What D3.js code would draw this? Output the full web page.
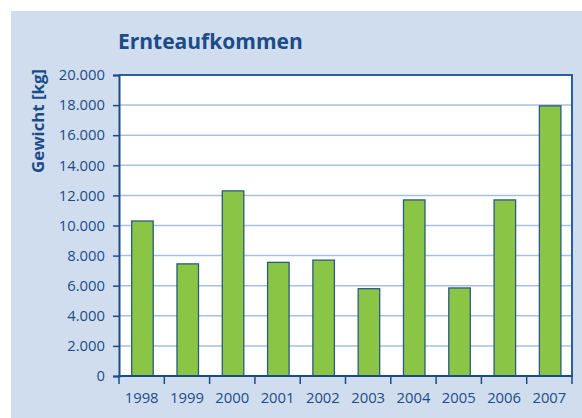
<!DOCTYPE html>
<html>
<head>
<meta charset="utf-8">
<script src="https://cdn.jsdelivr.net/npm/d3@7"></script>
<style>
  body { margin: 0; background: #fff; }
  svg { display: block; }
</style>
</head>
<body>
<svg id="chart"></svg>
<script>
// data
const years = ['1998', '1999', '2000', '2001', '2002', '2003', '2004', '2005', '2006', '2007']
const weights = [10300, 7450, 12300, 7550, 7700, 5800, 11700, 5850, 11700, 17950]
const yTicks = [0, 2000, 4000, 6000, 8000, 10000, 12000, 14000, 16000, 18000, 20000]

const W = 582, H = 418
const margin = { top: 75, right: 10, bottom: 42, left: 119 }
const width = 572 - margin.left, height = 376 - margin.top

const dark = '#1b4c88'
const fmt = v => d3.format(',')(v).replace(/,/g, '.')

const svg = d3.select('#chart').attr('width', W).attr('height', H)

svg.append('rect').attr('x', 11).attr('y', 11).attr('width', W - 11).attr('height', H - 11)
  .attr('fill', '#d0ddee')

svg.append('text').attr('x', 118).attr('y', 49)
  .attr('font-family', 'Open Sans').attr('font-weight', 'bold').attr('font-size', 21)
  .attr('fill', dark).text('Ernteaufkommen')

svg.append('text').attr('transform', 'translate(44,121) rotate(-90)')
  .attr('text-anchor', 'middle')
  .attr('font-family', 'Open Sans').attr('font-weight', 'bold').attr('font-size', 16.8)
  .attr('fill', dark).text('Gewicht [kg]')

const g = svg.append('g').attr('transform', 'translate(' + margin.left + ',' + margin.top + ')')

const x = d3.scaleBand().domain(years).range([0, width])
const y = d3.scaleLinear().domain([0, 20000]).range([height, 0])

g.append('rect').attr('width', width).attr('height', height).attr('fill', '#fff')

// gridlines
g.selectAll('.grid').data(yTicks.slice(1, -1)).enter().append('line')
  .attr('x1', 0).attr('x2', width)
  .attr('y1', d => y(d)).attr('y2', d => y(d))
  .attr('stroke', '#a9c1de').attr('stroke-width', 1.5)

// bars
const bw = x.bandwidth() * 0.475
g.selectAll('.bar').data(weights).enter().append('rect')
  .attr('x', (d, i) => x(years[i]) + x.bandwidth() * 0.28)
  .attr('y', d => y(d))
  .attr('width', bw)
  .attr('height', d => height - y(d))
  .attr('fill', '#8bc546').attr('stroke', '#2a5a80').attr('stroke-width', 1.3)

// frame top/right
g.append('path').attr('d', 'M0,0H' + width + 'V' + height)
  .attr('fill', 'none').attr('stroke', '#2a5f9e').attr('stroke-width', 2)

// y axis
const yAxis = g.append('g').call(d3.axisLeft(y).tickValues(yTicks).tickFormat(fmt).tickSize(6).tickPadding(8))
yAxis.select('.domain').attr('stroke', dark).attr('stroke-width', 2)
yAxis.selectAll('.tick line').attr('stroke', dark).attr('stroke-width', 1.5)
yAxis.selectAll('text').attr('font-family', 'Open Sans').attr('font-size', 14.8).attr('fill', dark)

// x axis: ticks at band boundaries
const xAxis = g.append('g').attr('transform', 'translate(0,' + height + ')')
xAxis.append('line').attr('x1', -1).attr('x2', width + 1).attr('stroke', dark).attr('stroke-width', 2)
xAxis.selectAll('.xt').data(years.concat(['end'])).enter().append('line')
  .attr('x1', (d, i) => i * x.step()).attr('x2', (d, i) => i * x.step())
  .attr('y1', 0).attr('y2', 8).attr('stroke', dark).attr('stroke-width', 1.5)
xAxis.selectAll('.xl').data(years).enter().append('text')
  .attr('x', d => x(d) + x.bandwidth() / 2).attr('y', 27)
  .attr('text-anchor', 'middle')
  .attr('font-family', 'Open Sans').attr('font-size', 14.8).attr('fill', dark)
  .text(d => d)
</script>
</body>
</html>
